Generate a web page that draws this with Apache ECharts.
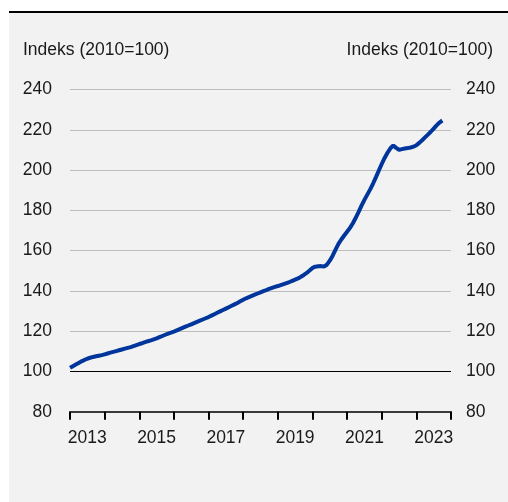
<!DOCTYPE html>
<html>
<head>
<meta charset="utf-8">
<script src="https://cdn.jsdelivr.net/npm/echarts@6/dist/echarts.min.js"></script>
<style>
  html, body { margin: 0; padding: 0; background: #fff; }
  #box1 { width: 508px; height: 502px; }
</style>
</head>
<body>
<div id="box1"></div>
<script>
// year labels on the x axis (one category per year, labels centred between ticks)
var yearLabels = ['2013', '2014', '2015', '2016', '2017', '2018', '2019', '2020', '2021', '2022', '2023']
var yTicks = [80, 100, 120, 140, 160, 180, 200, 220, 240]

// monthly index values (2010=100)
var v2013 = [101.8, 102.6, 103.4, 104.2, 105.0, 105.7, 106.3, 106.8, 107.2, 107.5, 107.8, 108.1]
var v2014 = [108.5, 108.9, 109.3, 109.7, 110.1, 110.5, 110.9, 111.3, 111.7, 112.1, 112.6, 113.1]
var v2015 = [113.6, 114.0, 114.5, 115.0, 115.4, 115.9, 116.4, 117.0, 117.6, 118.2, 118.8, 119.3]
var v2016 = [119.8, 120.4, 121.0, 121.6, 122.2, 122.8, 123.4, 124.0, 124.6, 125.2, 125.8, 126.4]
var v2017 = [127.0, 127.7, 128.4, 129.1, 129.8, 130.5, 131.2, 131.9, 132.6, 133.3, 134.0, 134.8]
var v2018 = [135.6, 136.3, 136.9, 137.5, 138.1, 138.7, 139.3, 139.9, 140.4, 141.0, 141.5, 142.0]
var v2019 = [142.4, 142.9, 143.4, 143.9, 144.4, 145.0, 145.6, 146.2, 147.0, 147.9, 148.9, 150.1]
var v2020 = [151.4, 152.0, 152.2, 152.3, 152.1, 153.0, 155.0, 157.5, 160.5, 163.3, 165.5, 167.5]
var v2021 = [169.4, 171.3, 173.6, 176.3, 179.2, 182.3, 185.2, 187.8, 190.4, 193.3, 196.5, 199.8]
var v2022 = [203.0, 206.0, 208.6, 210.8, 212.2, 211.0, 210.0, 210.4, 210.7, 210.9, 211.2, 211.6]
var v2023 = [212.3, 213.5, 214.8, 216.2, 217.6, 219.0, 220.6, 222.2, 223.6, 224.6]

var byYear = [v2013, v2014, v2015, v2016, v2017, v2018, v2019, v2020, v2021, v2022, v2023]
var points = []
byYear.forEach(function (arr, i) {
    var yr = Number(yearLabels[i])
    arr.forEach(function (v, m) {
        points.push([yr + m / 12, v])
    })
})

var font = '"Liberation Sans", Arial, sans-serif'
var txt = '#1a1a1a'

var first = echarts.init(document.getElementById('box1'))
var option = {
    animation: false,
    backgroundColor: '#fff',
    textStyle: { fontFamily: font },
    graphic: [
        { type: 'rect', z: -10, shape: { x: 9, y: 13, width: 499, height: 489 }, style: { fill: '#f2f2f2' } },
        { type: 'rect', z: -10, shape: { x: 9, y: 11, width: 499, height: 2 }, style: { fill: '#000' } }
    ],
    title: [
        {
            text: 'Indeks (2010=100)', left: 23, top: 41, padding: 0,
            textStyle: { fontSize: 17.5, fontWeight: 'normal', color: txt, fontFamily: font }
        },
        {
            text: 'Indeks (2010=100)', right: 15, top: 41, padding: 0,
            textStyle: { fontSize: 17.5, fontWeight: 'normal', color: txt, fontFamily: font }
        }
    ],
    grid: { left: 70, right: 57, top: 89.5, bottom: 90.3 },
    xAxis: [
        {
            type: 'category',
            data: yearLabels,
            boundaryGap: true,
            axisLine: { show: true, onZero: false, lineStyle: { color: '#3a3a3a', width: 2 } },
            axisTick: { show: true, interval: 0, length: 8, lineStyle: { color: '#000', width: 2 } },
            axisLabel: { interval: 1, margin: 17, fontSize: 17.5, color: txt, fontFamily: font },
            splitLine: { show: false }
        },
        {
            type: 'value', min: 2013, max: 2024, show: false
        }
    ],
    yAxis: [
        {
            type: 'value', min: yTicks[0], max: yTicks[yTicks.length - 1], interval: 20,
            position: 'left',
            axisLine: { show: false },
            axisTick: { show: false },
            axisLabel: { margin: 18, fontSize: 17.5, color: txt, fontFamily: font },
            splitLine: {
                lineStyle: {
                    color: ['#3a3a3a', '#000', '#bdbdbd', '#bdbdbd', '#bdbdbd', '#bdbdbd', '#bdbdbd', '#bdbdbd', '#bdbdbd'],
                    width: 1
                }
            }
        },
        {
            type: 'value', min: yTicks[0], max: yTicks[yTicks.length - 1], interval: 20,
            position: 'right',
            axisLine: { show: false },
            axisTick: { show: false },
            axisLabel: { margin: 15, fontSize: 17.5, color: txt, fontFamily: font },
            splitLine: { show: false }
        }
    ],
    series: [
        {
            name: 'Indeks',
            type: 'line',
            xAxisIndex: 1,
            yAxisIndex: 0,
            data: points,
            showSymbol: false,
            smooth: false,
            lineStyle: { color: '#00359c', width: 4 },
            z: 5
        }
    ]
}
first.setOption(option)
</script>
</body>
</html>
